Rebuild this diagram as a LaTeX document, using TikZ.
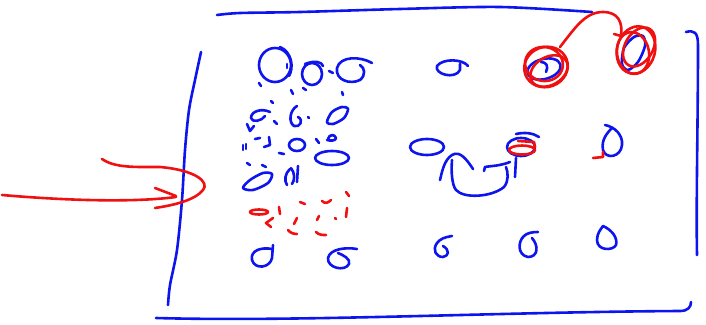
\documentclass[tikz,border=0pt]{standalone}
\usetikzlibrary{calc}
\definecolor{inkblue}{RGB}{14,20,238}
\definecolor{inkred}{RGB}{240,16,16}
\tikzset{
  pen/.style={line width=2.6pt, line cap=round, line join=round},
  bluepen/.style={pen, draw=inkblue},
  redpen/.style={pen, draw=inkred},
}
\begin{document}
\begin{tikzpicture}[x=1pt, y=-1pt]
  \useasboundingbox (0,0) rectangle (706,324);

  % frame
  \draw[bluepen] plot[smooth] coordinates {(217,15) (240,13) (300,12) (400,9) (500,7) (592,12)};
  \draw[bluepen] plot[smooth] coordinates {(201,52) (195,80) (189,110) (185,150) (182,200) (177,250) (170,285) (168,305)};
  \draw[bluepen] (156,318) .. controls (300,322) and (500,312) .. (680,311) .. controls (688,311) and (691,307) .. (691,302);
  \draw[bluepen] (686,32) .. controls (694,30) and (698,32) .. (698,45) .. controls (698,120) and (696,200) .. (697,255);

  % incoming arrow
  \draw[redpen] (2,195) .. controls (60,200) and (130,203) .. (176,197);
  \draw[redpen] (155,188) -- (176,196);
  \draw[redpen] (102,159) .. controls (115,168) and (135,167) .. (160,167) .. controls (195,170) and (210,182) .. (203,190) .. controls (195,200) and (175,205) .. (155,208);

  % left cluster, row 1
  \draw[bluepen] (275,65) ellipse[x radius=16, y radius=17];
  \draw[bluepen] (280,47) .. controls (292,52) and (294,68) .. (289,76);
  \draw[bluepen] (287,64) -- (287,68);
  \draw[bluepen] (312,74) ellipse[x radius=10, y radius=11];
  \draw[bluepen] (305,64) .. controls (315,60) and (322,62) .. (323,66);
  \draw[bluepen] (329,71) -- (333,73);
  \draw[bluepen] (372,63) .. controls (360,56) and (340,56) .. (337,68) .. controls (335,80) and (350,85) .. (360,80) .. controls (366,75) and (365,68) .. (360,65);
  \draw[bluepen] (259,83) -- (261,86);
  \draw[bluepen] (291,90) -- (293,94);
  \draw[bluepen] (303,88) -- (306,90);
  \draw[bluepen] (342,92) -- (343,95);

  % row 2
  \draw[bluepen] (270,112) .. controls (262,108) and (251,111) .. (251,118) .. controls (252,123) and (262,121) .. (265,116);
  \draw[bluepen] (271,101) -- (273,103);
  \draw[bluepen] (297,106) .. controls (290,110) and (288,122) .. (294,126) .. controls (300,128) and (304,120) .. (298,117);
  \draw[bluepen] (308,117) -- (309,118);
  \draw[bluepen] plot[smooth cycle] coordinates {(327,122) (332,112) (342,107) (348,109) (344,118) (333,124)};
  \draw[bluepen] (247,124) -- (250,131) -- (254,126);
  \draw[bluepen] (274,121) -- (277,124);

  % row 3
  \draw[bluepen] (243,145) -- (243,150);
  \draw[bluepen] (246,144) -- (246,149);
  \draw[bluepen] (255,139) -- (260,138);
  \draw[bluepen] (269,137) -- (270,145) -- (264,147);
  \draw[bluepen] (279,153) -- (284,154);
  \draw[bluepen] (297,145) ellipse[x radius=8, y radius=6];
  \draw[bluepen] (316,139) -- (319,143);
  \draw[bluepen] (328,139) .. controls (329,134) and (335,134) .. (336,138) .. controls (336,141) and (330,141) .. (327,140);
  \draw[bluepen] (332,158) ellipse[x radius=17, y radius=7];
  \draw[bluepen] (247,163) -- (250,165);

  % row 4
  \draw[bluepen] plot[smooth cycle] coordinates {(243,188) (250,180) (263,173) (272,174) (268,183) (253,190)};
  \draw[bluepen] (290,169) .. controls (285,173) and (284,181) .. (287,185);
  \draw[bluepen] (291,168) .. controls (295,173) and (295,180) .. (292,184);
  \draw[bluepen] (298,166) -- (297,182);
  \draw[bluepen] (262,165) -- (266,167);

  % red dashed patch
  \draw[redpen] (259,212) ellipse[x radius=9, y radius=2.5];
  \draw[redpen] (279,207) -- (280,214);
  \draw[redpen] (300,202) -- (305,204);
  \draw[redpen] (322,201) .. controls (325,204) and (328,203) .. (331,200);
  \draw[redpen] (346,192) -- (349,196);
  \draw[redpen] (347,208) -- (346,217);
  \draw[redpen] (273,218) -- (266,223) -- (271,227);
  \draw[redpen] (297,218) -- (294,224);
  \draw[redpen] (288,230) .. controls (290,233) and (294,234) .. (297,234);
  \draw[redpen] (319,216) -- (317,220);
  \draw[redpen] (335,218) -- (336,219);
  \draw[redpen] (316,232) .. controls (319,235) and (322,235) .. (326,235);

  % row 5
  \draw[bluepen] (273,245) -- (272,258) .. controls (270,268) and (255,270) .. (252,260) .. controls (250,250) and (262,247) .. (272,249);
  \draw[bluepen] (357,249) .. controls (345,247) and (330,249) .. (328,258) .. controls (327,268) and (345,272) .. (349,264) .. controls (351,259) and (343,255) .. (338,253);

  % middle column
  \draw[bluepen] (468,66) .. controls (463,59) and (443,58) .. (437,66) .. controls (434,74) and (455,80) .. (460,70) -- (460,64);
  \draw[bluepen] (427,147) ellipse[x radius=17, y radius=8];
  \draw[bluepen] (440,180) .. controls (442,172) and (444,160) .. (452,155) .. controls (460,150) and (467,160) .. (473,169);
  \draw[bluepen] (452,160) .. controls (451,172) and (452,185) .. (456,190) .. controls (464,199) and (492,197) .. (504,187) .. controls (509,181) and (508,172) .. (506,167);
  \draw[bluepen] (484,171) -- (485,167) .. controls (490,166) and (500,166) .. (510,162);
  \draw[bluepen] (516,158) -- (515,177);
  \draw[bluepen] (521,147) ellipse[x radius=14, y radius=9];
  \draw[bluepen] (516,134) .. controls (525,132) and (533,133) .. (539,137);
  \draw[redpen] (522,150) ellipse[x radius=13, y radius=4.5];
  \draw[redpen] (518,141) -- (534,142) -- (535,147);
  \draw[bluepen] (605,125) .. controls (615,127) and (623,135) .. (622,145) .. controls (621,157) and (606,160) .. (603,150) .. controls (601,140) and (607,133) .. (612,128);
  \draw[redpen] (603,152) -- (603,157) -- (593,158);

  % bottom middle row
  \draw[bluepen] (452,236) .. controls (445,237) and (440,239) .. (437,243) .. controls (432,250) and (436,257) .. (443,257) .. controls (449,256) and (450,250) .. (443,246);
  \draw[bluepen] (538,232) .. controls (532,232) and (527,233) .. (524,236) .. controls (518,241) and (517,255) .. (528,257) .. controls (538,257) and (539,246) .. (532,238);
  \draw[bluepen] (603,226) .. controls (612,230) and (618,238) .. (616,245) .. controls (613,251) and (597,251) .. (597,240) .. controls (597,233) and (601,229) .. (603,226);

  % top right, circled
  \draw[bluepen, rotate around={15:(544,69)}] (544,69) ellipse[x radius=17, y radius=10];
  \draw[bluepen] (541,62) .. controls (546,62) and (549,66) .. (546,72);
  \draw[redpen, rotate around={20:(546,67)}] (546,67) ellipse[x radius=22, y radius=20];
  \draw[redpen, rotate around={30:(549,71)}] (549,71) ellipse[x radius=20, y radius=14];
  \draw[redpen, rotate around={-10:(544,64)}] (544,64) ellipse[x radius=19, y radius=17];
  \draw[bluepen] plot[smooth cycle] coordinates {(622,64) (624,48) (634,37) (643,36) (645,46) (638,62) (628,70)};
  \draw[redpen, rotate around={-15:(636,50)}] (636,50) ellipse[x radius=19, y radius=24];
  \draw[redpen, rotate around={10:(633,53)}] (633,53) ellipse[x radius=16, y radius=21];
  \draw[redpen, rotate around={-30:(639,47)}] (639,47) ellipse[x radius=14, y radius=21];
  \draw[redpen] (560,47) .. controls (575,28) and (585,12) .. (603,12) .. controls (618,12) and (623,22) .. (621,36);
  \draw[redpen] (614,34) -- (621,36);
\end{tikzpicture}
\end{document}
